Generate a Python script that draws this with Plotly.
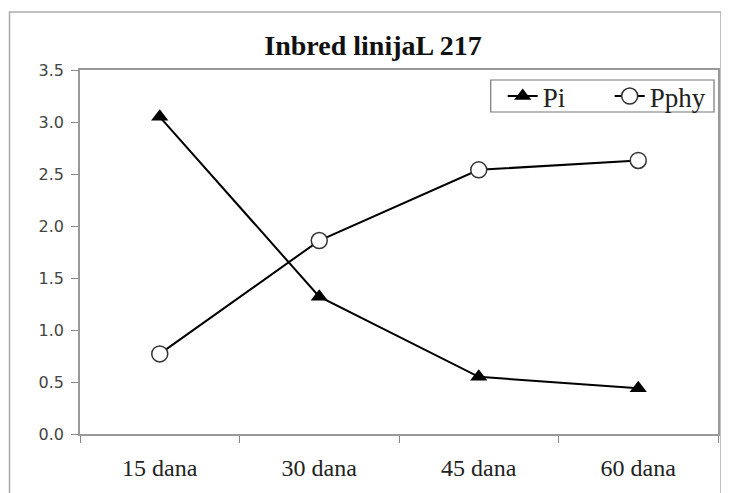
import plotly.graph_objects as go

categories = ["15 dana", "30 dana", "45 dana", "60 dana"]
pi_values = [3.05, 1.32, 0.55, 0.44]
pphy_values = [0.77, 1.86, 2.54, 2.63]
y_ticks = [0.0, 0.5, 1.0, 1.5, 2.0, 2.5, 3.0, 3.5]
y_labels = ["0.0", "0.5", "1.0", "1.5", "2.0", "2.5", "3.0", "3.5"]

fig = go.Figure()
fig.add_trace(go.Scatter(
    x=categories, y=pi_values, name="Pi", mode="lines+markers",
    line=dict(color="black", width=2),
    marker=dict(symbol="triangle-up", size=15, color="black"),
))
fig.add_trace(go.Scatter(
    x=categories, y=pphy_values, name="Pphy", mode="lines+markers",
    line=dict(color="black", width=2),
    marker=dict(symbol="circle", size=16, color="white",
                line=dict(color="#333333", width=1.5)),
))

# page body has an 8px margin, so the figure is offset by 8px
fig.update_layout(
    width=721, height=485,
    margin=dict(l=72, r=9, t=62, b=59),
    paper_bgcolor="white", plot_bgcolor="white",
    title=dict(text="<b>Inbred linijaL 217</b>", x=(373 - 8) / 721, xanchor="center",
               y=1 - (45 - 8) / 485, yanchor="middle",
               font=dict(family="Liberation Serif", size=28, color="#111111")),
    showlegend=True,
    legend=dict(orientation="h", x=(504 - 80) / 640, xanchor="left",
                y=(434 - 72) / 364, yanchor="top",
                borderwidth=0, bgcolor="rgba(0,0,0,0)",
                font=dict(family="Liberation Serif", size=27, color="#222222"),
                entrywidth=62, entrywidthmode="pixels", tracegroupgap=0),
    xaxis=dict(type="category", tickson="boundaries", ticks="outside", ticklen=7,
               tickcolor="#888888", showline=True, linecolor="#999999", linewidth=1.5,
               mirror=True, showgrid=False, range=[-0.5, 3.5],
               tickfont=dict(family="Liberation Serif", size=24, color="#222222"),
               ticklabelstandoff=11),
    yaxis=dict(range=[0, 3.5], tickvals=y_ticks, ticktext=y_labels, ticks="outside",
               ticklen=7, tickcolor="#888888", showline=True, linecolor="#999999",
               linewidth=1.5, mirror=True, showgrid=False, zeroline=False,
               ticklabelstandoff=4,
               tickfont=dict(family="DejaVu Sans", size=16, color="#444444")),
    shapes=[
        dict(type="rect", xref="paper", yref="paper",
             x0=-72 / 640 + 0.002, x1=(723 - 80) / 640,
             y0=-0.3, y1=(434 - 12) / 364,
             line=dict(color="#aaaaaa", width=1.5), layer="below"),
        dict(type="rect", xref="paper", yref="paper",
             x0=(492 - 80) / 640, x1=(716 - 80) / 640,
             y0=(434 - 112) / 364, y1=(434 - 80) / 364,
             line=dict(color="#777777", width=1.2), fillcolor="white", layer="below"),
    ],
)

fig.write_html("out.html")
